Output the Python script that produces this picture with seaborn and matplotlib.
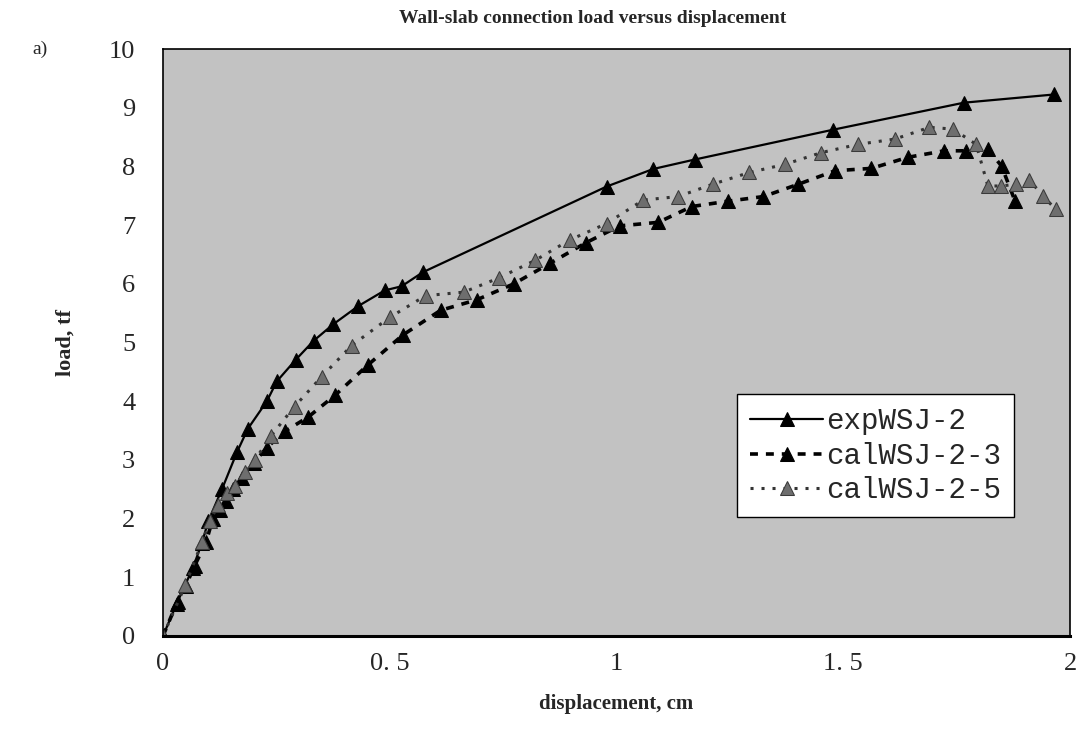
import numpy as np
import pandas as pd
import seaborn as sns
import matplotlib
matplotlib.use("Agg")
import matplotlib.pyplot as plt

# load-displacement data
exp_x = [0, 0.032, 0.066, 0.086, 0.100, 0.130, 0.163, 0.187, 0.229, 0.251, 0.293,
         0.332, 0.375, 0.430, 0.489, 0.526, 0.573, 0.978, 1.081, 1.172, 1.478,
         1.766, 1.965]
exp_y = [0, 0.58, 1.16, 1.59, 1.96, 2.50, 3.13, 3.53, 4.00, 4.34, 4.71,
         5.03, 5.31, 5.62, 5.89, 5.96, 6.20, 7.66, 7.96, 8.12, 8.63,
         9.09, 9.23]

cal3_x = [0, 0.030, 0.050, 0.070, 0.095, 0.110, 0.125, 0.140, 0.155, 0.175,
          0.200, 0.229, 0.269, 0.320, 0.379, 0.452, 0.529, 0.612, 0.692,
          0.773, 0.853, 0.932, 1.007, 1.092, 1.166, 1.245, 1.324, 1.401,
          1.482, 1.562, 1.643, 1.723, 1.771, 1.819, 1.849, 1.879]
cal3_y = [0, 0.55, 0.85, 1.20, 1.60, 2.00, 2.15, 2.30, 2.50, 2.70,
          2.95, 3.21, 3.49, 3.73, 4.10, 4.62, 5.13, 5.55, 5.73,
          6.00, 6.35, 6.70, 6.99, 7.05, 7.32, 7.41, 7.49, 7.70,
          7.93, 7.97, 8.16, 8.27, 8.27, 8.30, 8.01, 7.41]

cal5_x = [0, 0.049, 0.086, 0.104, 0.122, 0.141, 0.159, 0.181, 0.203, 0.238,
          0.290, 0.350, 0.416, 0.500, 0.579, 0.663, 0.740, 0.820, 0.897,
          0.978, 1.059, 1.136, 1.212, 1.293, 1.372, 1.452, 1.533, 1.614,
          1.690, 1.742, 1.793, 1.819, 1.848, 1.881, 1.910, 1.940, 1.969]
cal5_y = [0, 0.86, 1.60, 1.96, 2.24, 2.44, 2.56, 2.80, 3.00, 3.41,
          3.91, 4.42, 4.95, 5.43, 5.80, 5.86, 6.10, 6.40, 6.75,
          7.03, 7.43, 7.49, 7.70, 7.90, 8.04, 8.24, 8.38, 8.47,
          8.67, 8.64, 8.38, 7.67, 7.67, 7.70, 7.78, 7.50, 7.27]

x_ticks = [0, 0.5, 1, 1.5, 2]
x_ticklabels = ["0", "0. 5", "1", "1. 5", "2"]
y_ticks = list(range(0, 11))

sns.set_style("white")
plt.rcParams["font.family"] = ["Liberation Serif", "DejaVu Serif"]

fig = plt.figure(figsize=(10.83, 7.36), dpi=100)
ax = fig.add_axes([0.1505, 0.136, 0.8375, 0.797])
ax.set_facecolor("#c2c2c2")

sns.lineplot(x=exp_x, y=exp_y, ax=ax, sort=False, estimator=None,
             color="black", linewidth=1.6, marker="^", markersize=10,
             markeredgecolor="black", label="expWSJ-2")
sns.lineplot(x=cal3_x, y=cal3_y, ax=ax, sort=False, estimator=None,
             color="black", linewidth=2.6, linestyle=(0, (2.2, 2.2)),
             marker="^", markersize=10, markeredgecolor="black",
             label="calWSJ-2-3")
sns.lineplot(x=cal5_x, y=cal5_y, ax=ax, sort=False, estimator=None,
             color="#333333", linewidth=2.2, linestyle=(0, (1, 2.6)),
             marker="^", markersize=10, markerfacecolor="#6e6e6e",
             markeredgecolor="#3a3a3a", label="calWSJ-2-5")

ax.set_xlim(0, 2)
ax.set_ylim(0, 10)
ax.set_xticks(x_ticks)
ax.set_xticklabels(x_ticklabels)
ax.set_yticks(y_ticks)
ax.tick_params(axis="both", direction="in", length=5, width=1, labelsize=19)
ax.tick_params(axis="x", pad=12)
ax.tick_params(axis="y", pad=20)

for side in ["top", "right", "left"]:
    ax.spines[side].set_linewidth(1.2)
    ax.spines[side].set_color("black")
ax.spines["bottom"].set_linewidth(2.2)
ax.spines["bottom"].set_color("black")

ax.set_xlabel("displacement, cm", fontsize=15, fontweight="bold", labelpad=14)
ax.set_ylabel("load, tf", fontsize=16, fontweight="bold", labelpad=24)

fig.text(0.547, 0.975, "Wall-slab connection load versus displacement",
         ha="center", va="center", fontsize=14, fontweight="bold")
fig.text(0.037, 0.933, "a)", ha="center", va="center", fontsize=14)

leg = ax.legend(loc="upper left", bbox_to_anchor=(0.633, 0.412),
                prop={"family": ["Liberation Mono", "DejaVu Sans Mono"],
                      "size": 21},
                handlelength=2.5, handletextpad=0.1, labelspacing=0.22,
                borderpad=0.45, borderaxespad=0, frameon=True, fancybox=False)
leg.get_frame().set_edgecolor("black")
leg.get_frame().set_linewidth(1.0)
leg.get_frame().set_facecolor("white")
leg.get_frame().set_alpha(1)

fig.savefig("out.png", dpi=100, facecolor="white")
